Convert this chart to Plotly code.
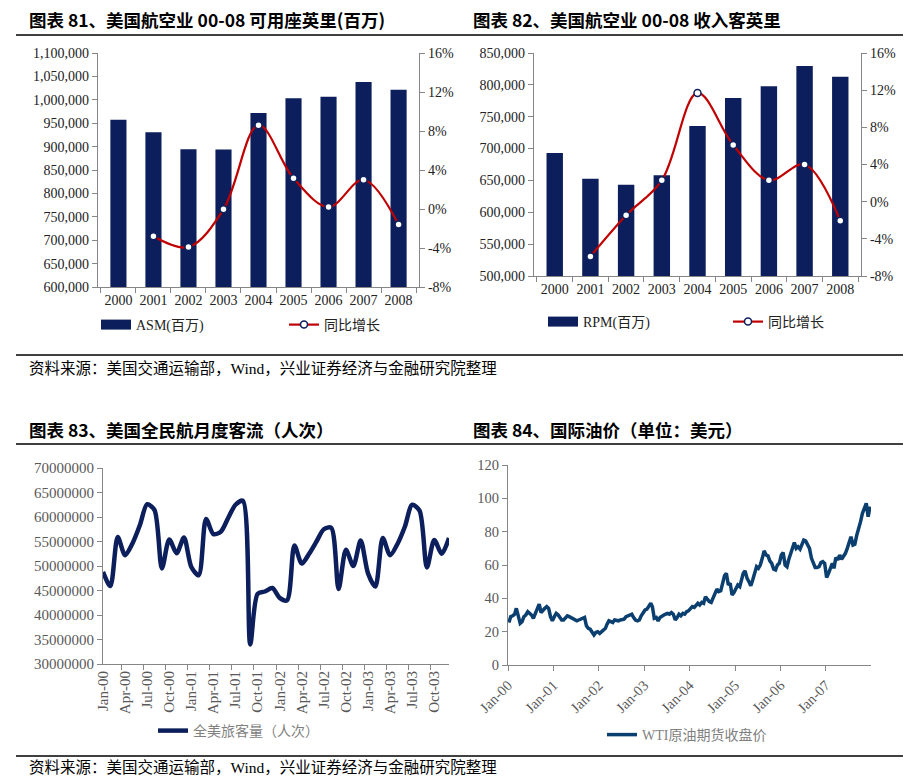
import plotly.graph_objects as go

W, H = 907, 779

# ---- 图表81 / 82: 年度数据 ----
years = ['2000', '2001', '2002', '2003', '2004', '2005', '2006', '2007', '2008']
asm = [957500, 930500, 894200, 893800, 971800, 1003200, 1006700, 1038000, 1021600]
asm_yoy = [None, -0.028, -0.039, -0.0003, 0.086, 0.0315, 0.002, 0.030, -0.016]
rpm = [693000, 652700, 643300, 658000, 735400, 779400, 797700, 829600, 812800]
rpm_yoy = [None, -0.059, -0.0147, 0.023, 0.117, 0.061, 0.023, 0.040, -0.0205]
pct_ticks = [-0.08, -0.04, 0.0, 0.04, 0.08, 0.12, 0.16]
pct_labels = ['-8%', '-4%', '0%', '4%', '8%', '12%', '16%']

# ---- 图表83: 月度客流 2000-2003 ----
mon_names = ['Jan', 'Feb', 'Mar', 'Apr', 'May', 'Jun', 'Jul', 'Aug', 'Sep', 'Oct', 'Nov', 'Dec']
months = [f'{m}-{y:02d}' for y in range(0, 4) for m in mon_names]
passengers = [
    48.8e6, 45.9e6, 55.9e6, 52.2e6, 54.6e6, 58.3e6, 62.6e6, 61.4e6, 49.5e6, 55.4e6, 52.6e6, 55.8e6,
    49.8e6, 48.1e6, 59.6e6, 56.5e6, 57.0e6, 59.8e6, 62.5e6, 63.3e6, 34.0e6, 44.3e6, 44.8e6, 45.5e6,
    43.5e6, 43.0e6, 54.2e6, 50.5e6, 52.5e6, 55.0e6, 57.5e6, 57.8e6, 45.3e6, 53.3e6, 50.0e6, 55.2e6,
    48.5e6, 45.8e6, 55.7e6, 52.2e6, 54.5e6, 58.0e6, 62.5e6, 61.3e6, 49.7e6, 55.3e6, 52.5e6, 55.7e6,
]

# ---- 图表84: WTI 原油期货收盘价 (每月两个读数) ----
oil_dates = [f'{y}-{m:02d}-{d:02d}' for y in range(2000, 2008) for m in range(1, 13) for d in (8, 23)]
wti = [
    # 2000
    25.5, 29.0, 29.5, 30.5, 34.0, 28.5, 25.0, 26.0, 29.0, 30.0, 32.0, 31.0,
    30.0, 28.0, 31.0, 33.0, 36.5, 31.5, 33.0, 34.0, 35.0, 34.0, 29.0, 26.5,
    # 2001
    29.0, 31.0, 30.0, 28.0, 27.0, 27.0, 28.0, 29.5, 29.0, 28.5, 28.0, 27.0,
    26.5, 27.0, 27.5, 28.0, 28.5, 23.5, 22.0, 21.5, 19.5, 18.0, 19.5, 20.0,
    # 2002
    19.0, 20.0, 21.0, 22.0, 24.5, 26.5, 26.0, 25.5, 27.0, 26.5, 26.5, 27.0,
    27.0, 27.5, 29.0, 29.5, 30.0, 30.5, 28.5, 27.0, 26.5, 27.0, 29.5, 31.5,
    # 2003
    33.0, 33.5, 35.5, 37.0, 35.0, 28.0, 28.5, 26.5, 28.5, 29.5, 30.0, 30.5,
    31.0, 30.5, 31.5, 30.5, 27.0, 28.5, 30.5, 29.5, 31.0, 30.5, 32.0, 32.5,
    # 2004
    34.0, 35.0, 34.5, 35.5, 37.0, 36.0, 37.5, 37.0, 41.0, 39.5, 38.0, 37.5,
    40.0, 42.5, 45.5, 44.0, 44.5, 49.0, 53.5, 55.0, 48.0, 49.0, 42.0, 43.5,
    # 2005
    46.5, 48.0, 47.0, 51.0, 55.0, 56.5, 52.0, 50.0, 47.5, 51.0, 56.0, 59.0,
    58.0, 60.0, 64.0, 68.5, 66.0, 65.5, 62.5, 61.0, 57.5, 57.0, 60.0, 61.0,
    # 2006
    66.0, 67.5, 60.0, 59.0, 63.0, 66.5, 69.0, 73.5, 70.0, 71.0, 69.5, 73.0,
    75.0, 74.5, 72.0, 70.0, 64.0, 61.0, 58.5, 58.5, 59.0, 61.5, 62.0, 61.0,
    # 2007
    52.5, 55.0, 58.5, 61.0, 58.0, 64.5, 63.0, 66.0, 63.5, 65.0, 67.0, 70.0,
    74.0, 77.0, 72.0, 72.5, 78.0, 81.5, 86.0, 91.0, 95.0, 97.0, 89.0, 95.0,
]

NAVY = '#0c1f5c'
RED = '#c00000'
OIL = '#0b3f70'
AXIS = '#868686'
FONT = 'Liberation Serif, Noto Sans CJK SC, serif'
CJK = 'Noto Sans CJK SC, sans-serif'


def px(x):
    return x / W


def py(y):
    return 1 - y / H


fig = go.Figure()

# 图表81
fig.add_trace(go.Bar(x=years, y=asm, name='ASM(百万)', marker_color=NAVY, showlegend=False,
                     xaxis='x', yaxis='y'))
# 图例里的宽条色块（柱子本身不进图例）
fig.add_trace(go.Scatter(x=[None], y=[None], name='ASM(百万)', mode='lines',
                         line=dict(color=NAVY, width=10), xaxis='x', yaxis='y', legend='legend'))
fig.add_trace(go.Scatter(x=years, y=asm_yoy, name='同比增长', mode='lines+markers',
                         line=dict(color=RED, width=2.2, shape='spline'),
                         marker=dict(size=7, color='white', line=dict(color=NAVY, width=1.5)),
                         xaxis='x', yaxis='y2', legend='legend'))
# 图表82
fig.add_trace(go.Bar(x=years, y=rpm, name='RPM(百万)', marker_color=NAVY, showlegend=False,
                     xaxis='x2', yaxis='y3'))
fig.add_trace(go.Scatter(x=[None], y=[None], name='RPM(百万)', mode='lines',
                         line=dict(color=NAVY, width=10), xaxis='x2', yaxis='y3', legend='legend2'))
fig.add_trace(go.Scatter(x=years, y=rpm_yoy, name='同比增长', mode='lines+markers',
                         line=dict(color=RED, width=2.2, shape='spline'),
                         marker=dict(size=7, color='white', line=dict(color=NAVY, width=1.5)),
                         xaxis='x2', yaxis='y4', legend='legend2'))
# 图表83
fig.add_trace(go.Scatter(x=months, y=passengers, name='全美旅客量（人次）', mode='lines',
                         line=dict(color=NAVY, width=4.5, shape='spline', smoothing=0.8),
                         xaxis='x3', yaxis='y5', legend='legend3'))
# 图表84
fig.add_trace(go.Scatter(x=oil_dates, y=wti, name='WTI原油期货收盘价', mode='lines',
                         line=dict(color=OIL, width=3.5),
                         xaxis='x4', yaxis='y6', legend='legend4'))

tick_dark = dict(family=FONT, size=14, color='#222222')
tick_gray = dict(family=FONT, size=14.5, color='#595959')
common_axis = dict(showline=True, linecolor=AXIS, linewidth=1.2, ticks='outside',
                   tickcolor=AXIS, ticklen=5, showgrid=False, zeroline=False, automargin=False)

fig.update_layout(
    template='none',
    width=W, height=H,
    margin=dict(l=0, r=0, t=0, b=0, autoexpand=False),
    paper_bgcolor='white', plot_bgcolor='white',
    font=dict(family=FONT, size=14, color='#222222'),
    bargap=0.54,
    xaxis=dict(domain=[px(98), px(419)], anchor='y', type='category', tickson='boundaries',
               tickangle=0, tickfont=tick_dark, **common_axis),
    yaxis=dict(domain=[py(287), py(53)], anchor='x', range=[600000, 1100000], dtick=50000,
               tickformat=',', tickfont=tick_dark, **common_axis),
    yaxis2=dict(domain=[py(287), py(53)], anchor='x', overlaying='y', side='right',
                range=[-0.08, 0.16], tickvals=pct_ticks, ticktext=pct_labels,
                tickfont=tick_dark, **common_axis),
    xaxis2=dict(domain=[px(534), px(861)], anchor='y3', type='category', tickson='boundaries',
                tickangle=0, tickfont=tick_dark, **common_axis),
    yaxis3=dict(domain=[py(276), py(53)], anchor='x2', range=[500000, 850000], dtick=50000,
                tickformat=',', tickfont=tick_dark, **common_axis),
    yaxis4=dict(domain=[py(276), py(53)], anchor='x2', overlaying='y3', side='right',
                range=[-0.08, 0.16], tickvals=pct_ticks, ticktext=pct_labels,
                tickfont=tick_dark, **common_axis),
    xaxis3=dict(domain=[px(103), px(449)], anchor='y5', type='category', tickson='boundaries',
                dtick=3, tickangle=-90, tickfont=dict(family=FONT, size=15, color='#595959'),
                **common_axis),
    yaxis5=dict(domain=[py(664), py(468)], anchor='x3', range=[30000000, 70000000], dtick=5000000,
                tickformat='d', tickfont=dict(family=FONT, size=15, color='#595959'), **common_axis),
    xaxis4=dict(domain=[px(508), px(871)], anchor='y6', type='date',
                range=['2000-01-01', '2007-12-31'], dtick='M12', tick0='2000-01-01',
                tickformat='%b-%y', tickangle=-45, tickfont=tick_gray, **common_axis),
    yaxis6=dict(domain=[py(665), py(465)], anchor='x4', range=[0, 120], dtick=20,
                tickfont=tick_gray, **common_axis),
    legend=dict(orientation='h', x=px(96), y=py(325), xanchor='left', yanchor='middle',
                entrywidth=143, font=dict(family=FONT, size=14, color='#222222'),
                bgcolor='rgba(0,0,0,0)'),
    legend2=dict(orientation='h', x=px(543), y=py(322), xanchor='left', yanchor='middle',
                 entrywidth=140, font=dict(family=FONT, size=14, color='#222222'),
                 bgcolor='rgba(0,0,0,0)'),
    legend3=dict(orientation='h', x=px(153), y=py(731), xanchor='left', yanchor='middle',
                 font=dict(family=FONT, size=14, color='#7f7f7f'), bgcolor='rgba(0,0,0,0)'),
    legend4=dict(orientation='h', x=px(602), y=py(735), xanchor='left', yanchor='middle',
                 font=dict(family=FONT, size=14, color='#7f7f7f'), bgcolor='rgba(0,0,0,0)'),
)

titles = [
    (27, 20, '图表 81、美国航空业 00-08 可用座英里(百万)'),
    (471, 20, '图表 82、美国航空业 00-08 收入客英里'),
    (27, 429, '图表 83、美国全民航月度客流（人次）'),
    (471, 429, '图表 84、国际油价（单位：美元）'),
]
for tx, ty, text in titles:
    fig.add_annotation(x=px(tx), y=py(ty), xref='paper', yref='paper', xanchor='left',
                       yanchor='middle', showarrow=False, text=f'<b>{text}</b>',
                       font=dict(family=CJK, size=17.5, color='black'))

source = '资料来源：美国交通运输部，Wind，兴业证券经济与金融研究院整理'
for sy in (368, 767):
    fig.add_annotation(x=px(27), y=py(sy), xref='paper', yref='paper', xanchor='left',
                       yanchor='middle', showarrow=False, text=source,
                       font=dict(family=FONT, size=15.5, color='black'))

for ly in (35, 355, 444, 756):
    fig.add_shape(type='line', xref='paper', yref='paper', x0=px(16), x1=px(903),
                  y0=py(ly), y1=py(ly), line=dict(color='black', width=1.3))

# 去掉页面默认的 8px 边距，让图正好铺满窗口
fig.write_html('out.html', config={'displayModeBar': False},
               post_script="document.body.style.margin='0';")
